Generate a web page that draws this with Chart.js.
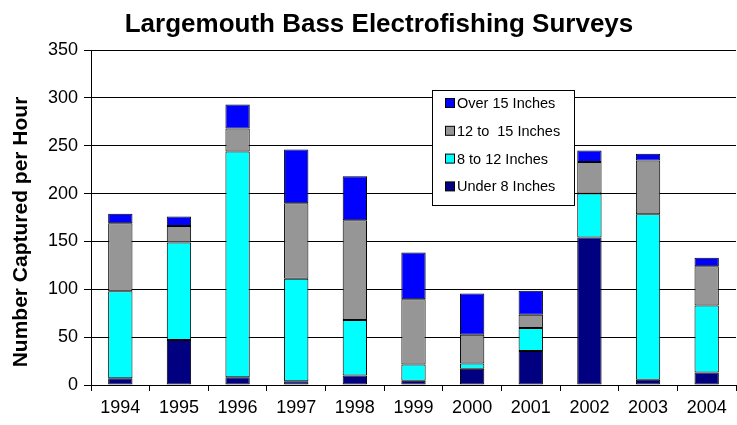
<!DOCTYPE html>
<html>
<head>
<meta charset="utf-8">
<script src="https://cdn.jsdelivr.net/npm/chart.js@4/dist/chart.umd.min.js"></script>
<style>
  body { margin: 0; background: #fff; }
  #wrap { width: 737px; height: 425px; }
</style>
</head>
<body>
<div id="wrap"><canvas id="myChart" width="737" height="425"></canvas></div>
<script>
// anos e valores (peixes por hora)
var anos = ['1994','1995','1996','1997','1998','1999','2000','2001','2002','2003','2004'];
var under8 = [7, 47, 8, 4, 10, 4.5, 17, 35.5, 154, 5.5, 13];
var de8a12 = [91, 102, 236, 107, 58, 17, 5.5, 24, 46, 173, 70];
var de12a15 = [71, 17, 24, 79, 104, 68, 30, 14, 33, 56, 41];
var over15 = [10, 10, 25, 56, 46, 49, 43, 25, 12, 7, 9];
var yTicks = [0, 50, 100, 150, 200, 250, 300, 350];
var titulo = 'Largemouth Bass Electrofishing Surveys';
var tituloY = 'Number Captured per Hour';

var fonte = 'Arial, "Liberation Sans", sans-serif';

// titulos e legenda desenhados por cima (posicao igual a figura)
const extras = {
  id: 'extras',
  afterDraw(chart) {
    const c = chart.ctx;
    c.save();
    c.fillStyle = '#000';
    c.font = 'bold 26px ' + fonte;
    c.textAlign = 'center';
    c.textBaseline = 'middle';
    c.fillText(titulo, 379, 25);

    // titulo do eixo y
    c.save();
    c.translate(21, 232);
    c.rotate(-Math.PI / 2);
    c.font = 'bold 21px ' + fonte;
    c.fillText(tituloY, 0, 0);
    c.restore();

    const x = 432, y = 90, w = 142, h = 115;
    c.textAlign = 'left';
    c.fillStyle = '#fff';
    c.fillRect(x, y, w, h);
    c.strokeStyle = '#000';
    c.lineWidth = 1;
    c.strokeRect(x + 0.5, y + 0.5, w, h);
    const ds = chart.data.datasets.slice().reverse();
    c.font = '14.5px ' + fonte;
    ds.forEach(function (d, i) {
      const cy = 103 + i * 27.8;
      c.fillStyle = d.backgroundColor;
      c.fillRect(445.5, cy - 4.5, 9, 9);
      c.strokeStyle = '#000';
      c.strokeRect(445.5, cy - 4.5, 9, 9);
      c.fillStyle = '#000';
      c.fillText(d.label, 457, cy + 1);
    });
    c.restore();
  }
};

const ctx = document.getElementById('myChart');
new Chart(ctx, {
  type: 'bar',
  data: {
    labels: anos,
    datasets: [
      { label: 'Under 8 Inches', data: under8, backgroundColor: '#000080' },
      { label: '8 to 12 Inches', data: de8a12, backgroundColor: '#00FFFF' },
      { label: '12 to  15 Inches', data: de12a15, backgroundColor: '#969696' },
      { label: 'Over 15 Inches', data: over15, backgroundColor: '#0000FF' }
    ].map(function (d) {
      d.borderColor = '#000';
      d.borderWidth = 1;
      d.borderSkipped = false;
      d.barPercentage = 0.415;
      d.categoryPercentage = 1;
      return d;
    })
  },
  options: {
    responsive: false,
    animation: false,
    layout: { padding: { left: 0, right: 1, top: 50, bottom: 0 } },
    plugins: {
      legend: { display: false },
      tooltip: { enabled: false },
      title: { display: false }
    },
    scales: {
      x: {
        stacked: true,
        grid: { display: true, drawOnChartArea: false, color: '#000', tickLength: 6, offset: true },
        border: { color: '#000', width: 1 },
        ticks: { color: '#000', font: { family: fonte, size: 18 }, padding: 6, maxRotation: 0 },
        afterFit: function (s) { s.height = 40; }
      },
      y: {
        stacked: true,
        min: 0,
        max: 350,
        afterBuildTicks: function (s) { s.ticks = yTicks.map(function (v) { return { value: v }; }); },
        grid: { color: '#000', lineWidth: 1, tickLength: 7 },
        border: { color: '#000', width: 1 },
        ticks: { color: '#000', font: { family: fonte, size: 18 }, padding: 6 },
        afterFit: function (s) { s.width = 91; }
      }
    }
  },
  plugins: [extras]
});
</script>
</body>
</html>
